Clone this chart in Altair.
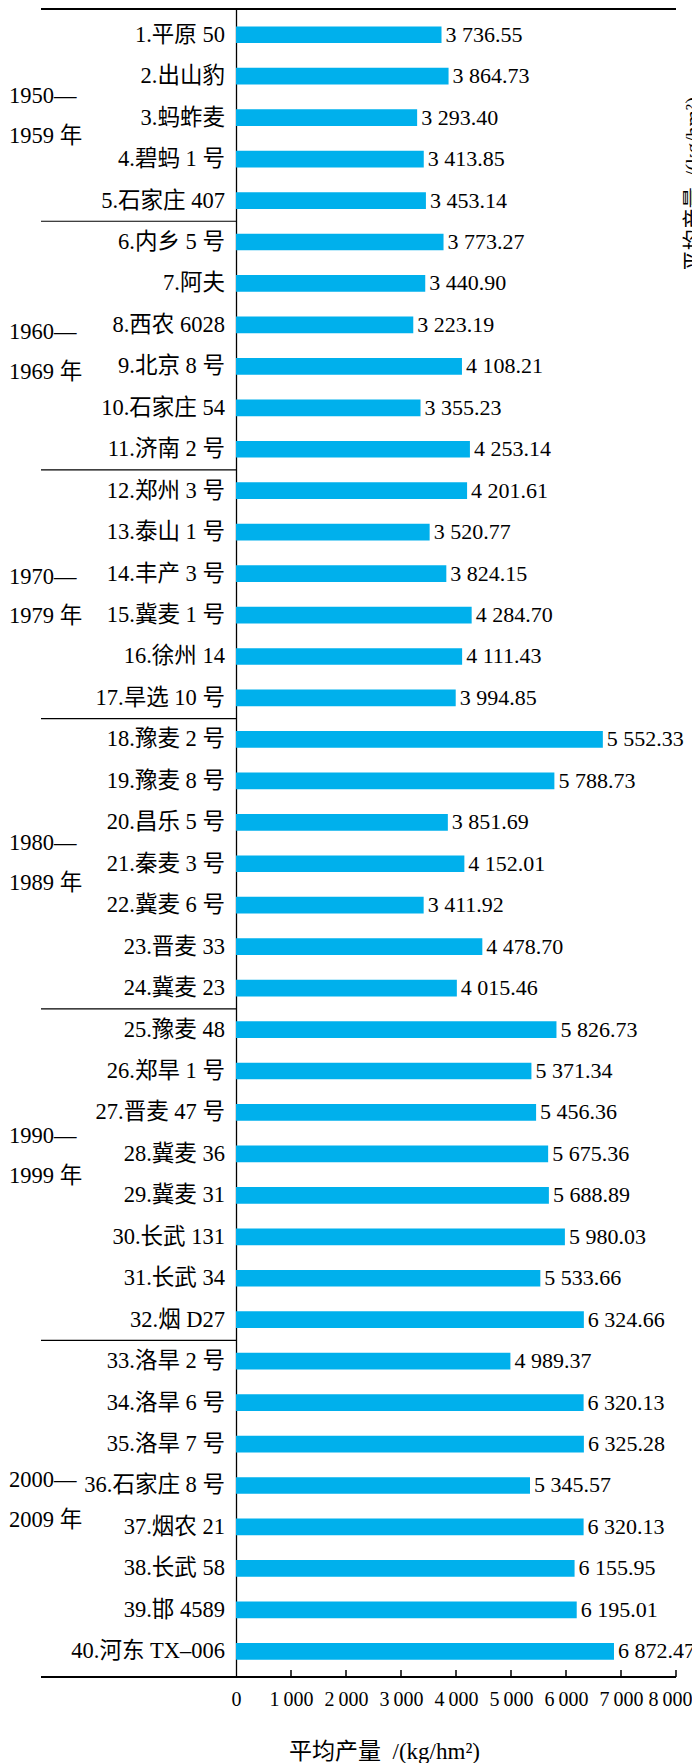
import altair as alt
import pandas as pd

# ---- data ----
varieties = [
    "1.平原 50", "2.出山豹", "3.蚂蚱麦", "4.碧蚂 1 号", "5.石家庄 407",
    "6.内乡 5 号", "7.阿夫", "8.西农 6028", "9.北京 8 号", "10.石家庄 54",
    "11.济南 2 号", "12.郑州 3 号", "13.泰山 1 号", "14.丰产 3 号", "15.冀麦 1 号",
    "16.徐州 14", "17.旱选 10 号", "18.豫麦 2 号", "19.豫麦 8 号", "20.昌乐 5 号",
    "21.秦麦 3 号", "22.冀麦 6 号", "23.晋麦 33", "24.冀麦 23", "25.豫麦 48",
    "26.郑旱 1 号", "27.晋麦 47 号", "28.冀麦 36", "29.冀麦 31", "30.长武 131",
    "31.长武 34", "32.烟 D27", "33.洛旱 2 号", "34.洛旱 6 号", "35.洛旱 7 号",
    "36.石家庄 8 号", "37.烟农 21", "38.长武 58", "39.邯 4589", "40.河东 TX–006",
]
yields = [
    3736.55, 3864.73, 3293.40, 3413.85, 3453.14,
    3773.27, 3440.90, 3223.19, 4108.21, 3355.23,
    4253.14, 4201.61, 3520.77, 3824.15, 4284.70,
    4111.43, 3994.85, 5552.33, 5788.73, 3851.69,
    4152.01, 3411.92, 4478.70, 4015.46, 5826.73,
    5371.34, 5456.36, 5675.36, 5688.89, 5980.03,
    5533.66, 6324.66, 4989.37, 6320.13, 6325.28,
    5345.57, 6320.13, 6155.95, 6195.01, 6872.47,
]
# bar lengths as drawn in the picture (row 18 is drawn longer than its printed value)
bar_lengths = list(yields)
bar_lengths[17] = 6670.0

periods = ["1950—\n1959 年", "1960—\n1969 年", "1970—\n1979 年",
           "1980—\n1989 年", "1990—\n1999 年", "2000—\n2009 年"]
period_label_row = [2.96, 8.65, 14.55, 20.98, 28.05, 36.35]
period_last_item = [5, 11, 17, 24, 32, 40]
tick_values = [1000, 2000, 3000, 4000, 5000, 6000, 7000, 8000]

AXIS_TITLE = "平均产量\u2002/(kg/hm²)"
FONT = "Liberation Serif, Noto Sans CJK SC"
BLUE = "#00B0EC"
LINE_H = 39.5

W, H = 440, 1668

df = pd.DataFrame({
    "r": list(range(1, len(varieties) + 1)),
    "name": varieties,
    "v": bar_lengths,
    "lab": [f"{v:,.2f}".replace(",", " ") for v in yields],
})
df_period = pd.DataFrame({"r": period_label_row, "t": periods})
df_sep = pd.DataFrame({"r": [e + 0.5 for e in period_last_item[:-1]]})
df_ticks = pd.DataFrame({"v": tick_values})
df_one = pd.DataFrame({"a": [0]})

xscale = alt.Scale(domain=[0, 8000], nice=False, zero=True)
yscale = alt.Scale(domain=[40.5, 0.5], nice=False, zero=False)

x_axis = alt.Axis(
    values=[0] + tick_values, domain=False, ticks=False, grid=False,
    labelExpr="replace(format(datum.value, ',d'), ',', '\u2009')",
    labelFont=FONT, labelFontSize=20, labelColor="black",
    labelPadding=22, labelBaseline="middle", labelFlush=False, labelOverlap=False,
    labelAlign={"condition": {"test": "datum.value >= 8000", "value": "right"}, "value": "center"},
    labelOffset={"condition": {"test": "datum.value >= 8000", "value": 16}, "value": 0},
    title=AXIS_TITLE, titleFont=FONT, titleFontSize=23, titleFontWeight="normal",
    titleColor="black", titleX=148, titleY=74, titleBaseline="middle",
)
y_axis = alt.Axis(domain=True, domainColor="black", domainWidth=1.3, ticks=False,
                  labels=False, grid=False, title=None)

bars = alt.Chart(df).mark_bar(orient="horizontal", height=16.7, color=BLUE).encode(
    x=alt.X("v:Q", scale=xscale, axis=x_axis, stack=None),
    y=alt.Y("r:Q", scale=yscale, axis=y_axis),
)

values_txt = alt.Chart(df).mark_text(
    align="left", baseline="middle", dx=4, font=FONT, fontSize=22, color="black"
).encode(
    x=alt.X("v:Q", scale=xscale),
    y=alt.Y("r:Q", scale=yscale),
    text="lab:N",
)

names_txt = alt.Chart(df).mark_text(
    align="right", baseline="middle", font=FONT, fontSize=22.5, color="black"
).encode(
    x=alt.value(-11),
    y=alt.Y("r:Q", scale=yscale),
    text="name:N",
)

period_txt = alt.Chart(df_period).mark_text(
    align="left", baseline="middle", lineBreak="\n", lineHeight=LINE_H, dy=-LINE_H / 2,
    font=FONT, fontSize=22.5, color="black"
).encode(
    x=alt.value(-227),
    y=alt.Y("r:Q", scale=yscale),
    text="t:N",
)

separators = alt.Chart(df_sep).mark_rule(color="black", strokeWidth=1.2).encode(
    y=alt.Y("r:Q", scale=yscale),
    x=alt.value(-195), x2=alt.value(0),
)

top_line = alt.Chart(df_one).mark_rule(color="black", strokeWidth=1.8).encode(
    x=alt.value(-195), x2=alt.value(W), y=alt.value(0)
)
bottom_line = alt.Chart(df_one).mark_rule(color="black", strokeWidth=1.8).encode(
    x=alt.value(-195), x2=alt.value(W), y=alt.value(H)
)

ticks = alt.Chart(df_ticks).mark_rule(color="black", strokeWidth=1.5).encode(
    x=alt.X("v:Q", scale=xscale),
    y=alt.value(H - 7), y2=alt.value(H),
)

side_txt = alt.Chart(df_one).mark_text(
    angle=270, align="center", baseline="middle", font=FONT, fontSize=21, color="black",
    text=AXIS_TITLE,
).encode(x=alt.value(458), y=alt.value(175))

chart = alt.layer(
    bars, values_txt, names_txt, period_txt, separators, top_line, bottom_line, ticks, side_txt
).properties(
    width=W, height=H,
    autosize=alt.AutoSizeParams(type="none"),
    padding={"left": 228, "top": 1, "right": 16, "bottom": 86},
    background="white",
).configure_view(stroke=None)

chart.save("out.html", embed_options={"renderer": "svg", "actions": False})
